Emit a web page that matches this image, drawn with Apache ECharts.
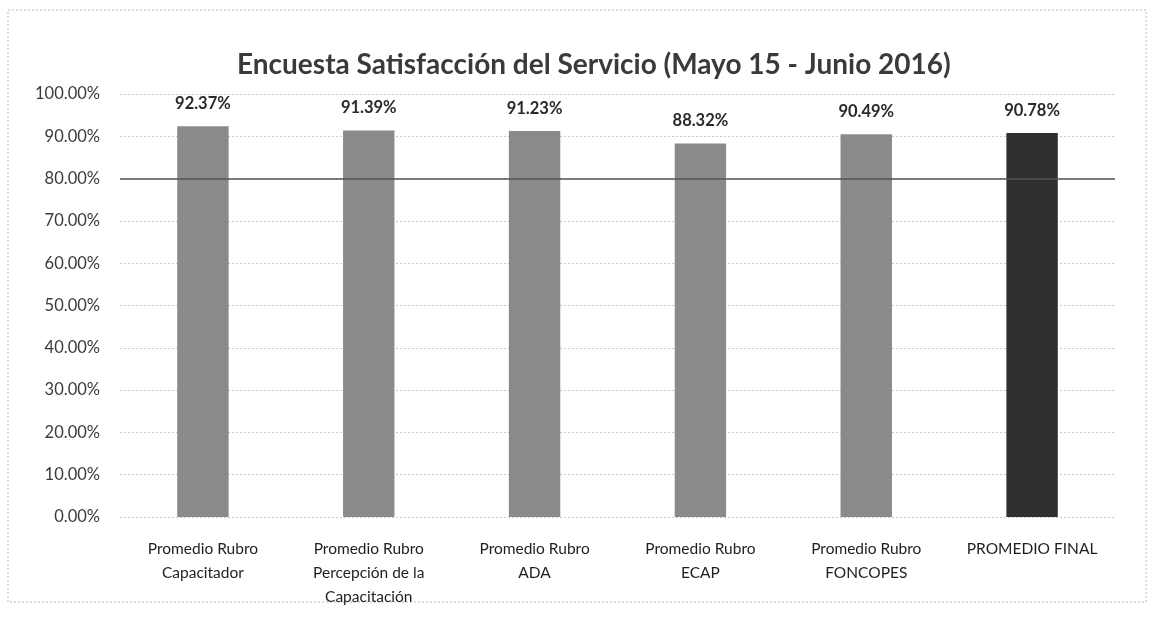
<!DOCTYPE html>
<html><head><meta charset="utf-8">
<script src="https://cdn.jsdelivr.net/npm/echarts@6/dist/echarts.min.js"></script>
<style>html,body{margin:0;padding:0;background:#fff}#c{width:1155px;height:628px}</style>
</head><body><div id="c"></div>
<script>
const categories = ['Promedio Rubro\nCapacitador','Promedio Rubro\nPercepción de la\nCapacitación','Promedio Rubro\nADA','Promedio Rubro\nECAP','Promedio Rubro\nFONCOPES','PROMEDIO FINAL'];
const values = [92.37, 91.39, 91.23, 88.32, 90.49, 90.78];
const targetValue = 80;
const barColors = ['#8a8a8a','#8a8a8a','#8a8a8a','#8a8a8a','#8a8a8a','#2e302f'];

const chart = echarts.init(document.getElementById('c'));
const font = 'Lato, "Open Sans", sans-serif';
chart.setOption({
  backgroundColor:'#fff',
  animation:false,
  title:{text:'Encuesta Satisfacción del Servicio (Mayo 15 - Junio 2016)',left:232,top:46,
    textStyle:{fontFamily:font,fontSize:28,fontWeight:'bold',color:'#3a3a3a'}},
  graphic:[{type:'rect',shape:{x:8,y:10,width:1138,height:592},style:{fill:'none',stroke:'#bbb',lineWidth:1,lineDash:[2,2]}}],
  grid:{left:120,right:40,top:94,bottom:111},
  xAxis:{type:'category',data:categories,
    axisLine:{show:false},axisTick:{show:false},
    axisLabel:{interval:0,fontFamily:font,fontSize:15.5,color:'#1e1e1e',lineHeight:24,margin:20}},
  yAxis:{type:'value',min:0,max:100,interval:10,
    axisLabel:{formatter:v=>v.toFixed(2)+'%',fontFamily:font,fontSize:16.5,color:'#3a3a3a',margin:20},
    splitLine:{lineStyle:{color:'#c8c8c8',type:[2,2]}},
    axisLine:{show:false},axisTick:{show:false}},
  series:[{type:'bar',barWidth:'31%',
    data:values.map((v,i)=>({value:v,itemStyle:{color:barColors[i]}})),
    label:{show:true,position:'top',distance:14,formatter:p=>p.value.toFixed(2)+'%',
      fontFamily:font,fontSize:16.5,fontWeight:'bold',color:'#2a2a2a'},
    markLine:{symbol:'none',silent:true,label:{show:false},
      lineStyle:{color:'#555',type:'solid',width:1.5},
      data:[{yAxis:targetValue}]},
    z:2}]
});
</script></body></html>
